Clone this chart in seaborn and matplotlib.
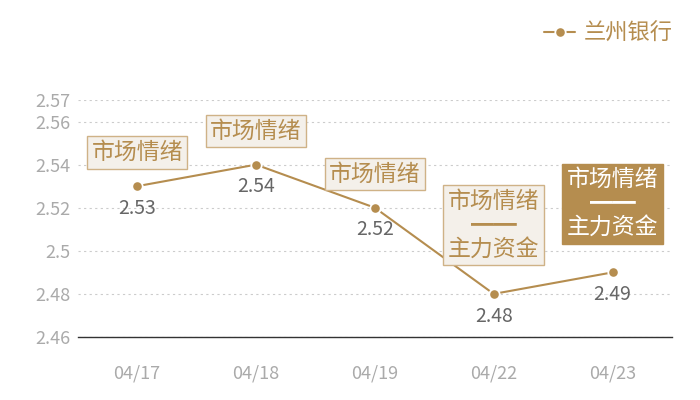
import matplotlib
matplotlib.use("Agg")
import matplotlib.pyplot as plt
import pandas as pd
import seaborn as sns

dates = ["04/17", "04/18", "04/19", "04/22", "04/23"]
values = [2.53, 2.54, 2.52, 2.48, 2.49]
notes = ["市场情绪", "市场情绪", "市场情绪", "市场情绪\n━━\n主力资金", "市场情绪\n━━\n主力资金"]
yticks = [2.46, 2.48, 2.5, 2.52, 2.54, 2.56, 2.57]
series_name = "兰州银行"

gold = "#b58d4f"

sns.set_style("white")
plt.rcParams["font.family"] = ["Noto Sans CJK SC", "DejaVu Sans"]

df = pd.DataFrame({"date": dates, "value": values})

fig = plt.figure(figsize=(7, 4), dpi=100)
ax = fig.add_axes([0.111, 0.1575, 0.849, 0.5925])

sns.lineplot(data=df, x="date", y="value", ax=ax, color=gold, linewidth=1.5,
             marker="o", markersize=7.5, markeredgecolor="white", markeredgewidth=1.3,
             label=series_name)

ax.set_xlim(-0.5, 4.5)
ax.set_ylim(2.46, 2.57)
ax.set_yticks(yticks)
ax.set_yticklabels([f"{t:g}" for t in yticks])
ax.set_xlabel("")
ax.set_ylabel("")
ax.tick_params(axis="both", length=0, labelcolor="#aaaaaa", labelsize=13)
ax.tick_params(axis="x", pad=20)
ax.tick_params(axis="y", pad=5)
ax.yaxis.grid(True, linestyle=(0, (2, 3)), color="#cccccc", linewidth=0.8)
for s in ["top", "right", "left"]:
    ax.spines[s].set_visible(False)
ax.spines["bottom"].set_color("#333333")
ax.spines["bottom"].set_linewidth(1)

# value labels under the points
for i, v in enumerate(values):
    ax.annotate(f"{v:.2f}", xy=(i, v), xytext=(0, -16), textcoords="offset points",
                ha="center", va="center", fontsize=14, color="#666666")

# note boxes above the points
for i, (v, n) in enumerate(zip(values, notes)):
    last = i == len(values) - 1
    off = 24 if "\n" in n else 16
    ax.annotate(n, xy=(i, v), xytext=(0, off), textcoords="offset points",
                ha="center", va="bottom", fontsize=16.5, linespacing=1.05,
                color="white" if last else gold,
                bbox=dict(boxstyle="square,pad=0.2",
                          fc=gold if last else "#f4f0ea",
                          ec=gold if last else "#cfb287", lw=1))

leg = ax.legend(loc="upper right", bbox_to_anchor=(0.99, 0.995),
                bbox_transform=fig.transFigure, frameon=False, fontsize=16,
                handlelength=1.4, handletextpad=0.4, labelcolor=gold)

fig.savefig("out.png", dpi=100)
